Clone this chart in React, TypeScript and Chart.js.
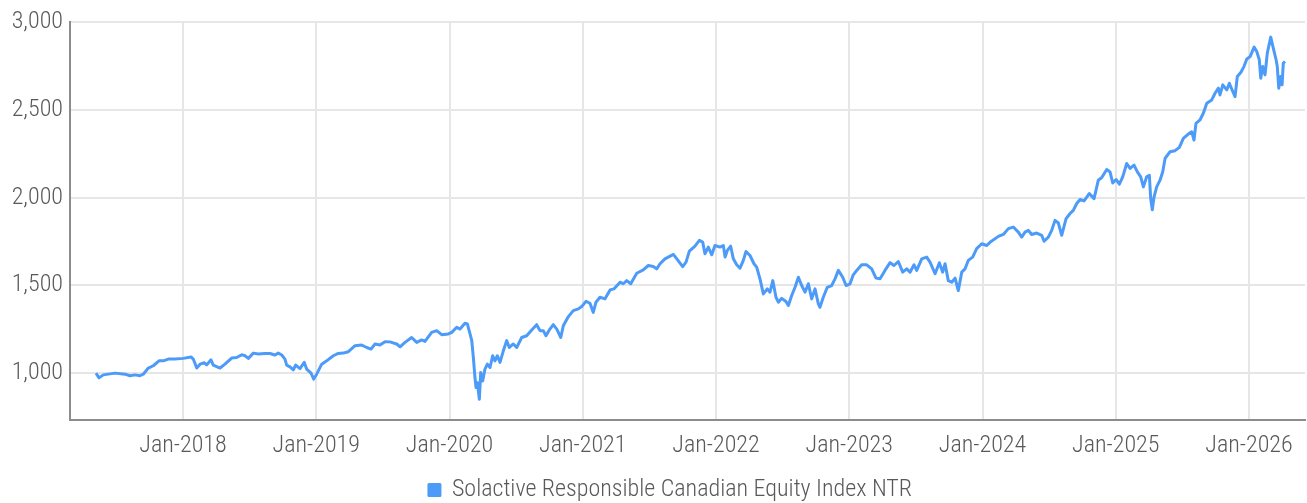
import React, { useEffect, useRef } from "react";
import { Chart, registerables } from "chart.js";

Chart.register(...registerables);

const seriesLabel = "Solactive Responsible Canadian Equity Index NTR";

// Time as decimal years
const dates = [
  2017.347, 2017.370, 2017.402, 2017.490, 2017.565, 2017.602, 2017.640, 2017.677, 2017.702, 2017.740,
  2017.777, 2017.820, 2017.852, 2017.890, 2017.940, 2018.002, 2018.060, 2018.077, 2018.103, 2018.128,
  2018.160, 2018.178, 2018.210, 2018.227, 2018.278, 2018.315, 2018.365, 2018.403, 2018.441, 2018.465,
  2018.490, 2018.528, 2018.565, 2018.615, 2018.653, 2018.690, 2018.715, 2018.741, 2018.765, 2018.778,
  2018.803, 2018.828, 2018.846, 2018.878, 2018.910, 2018.928, 2018.961, 2018.981, 2019.003, 2019.041,
  2019.078, 2019.128, 2019.165, 2019.203, 2019.241, 2019.291, 2019.341, 2019.379, 2019.411, 2019.441,
  2019.478, 2019.516, 2019.553, 2019.604, 2019.629, 2019.666, 2019.716, 2019.754, 2019.791, 2019.816,
  2019.866, 2019.904, 2019.941, 2019.991, 2020.017, 2020.054, 2020.079, 2020.116, 2020.134, 2020.154,
  2020.167, 2020.179, 2020.191, 2020.199, 2020.209, 2020.224, 2020.234, 2020.249, 2020.266, 2020.284,
  2020.304, 2020.324, 2020.341, 2020.359, 2020.379, 2020.404, 2020.429, 2020.449, 2020.479, 2020.504,
  2020.542, 2020.579, 2020.617, 2020.654, 2020.679, 2020.704, 2020.724, 2020.749, 2020.779, 2020.805,
  2020.835, 2020.854, 2020.892, 2020.929, 2020.967, 2020.992, 2021.024, 2021.054, 2021.079, 2021.099,
  2021.129, 2021.167, 2021.205, 2021.235, 2021.280, 2021.304, 2021.330, 2021.360, 2021.405, 2021.454,
  2021.492, 2021.529, 2021.555, 2021.580, 2021.617, 2021.680, 2021.710, 2021.750, 2021.775, 2021.800,
  2021.842, 2021.875, 2021.900, 2021.917, 2021.942, 2021.968, 2021.992, 2022.030, 2022.055, 2022.068,
  2022.085, 2022.110, 2022.130, 2022.155, 2022.180, 2022.205, 2022.225, 2022.255, 2022.285, 2022.305,
  2022.330, 2022.355, 2022.385, 2022.405, 2022.426, 2022.450, 2022.468, 2022.493, 2022.525, 2022.543,
  2022.568, 2022.593, 2022.618, 2022.643, 2022.668, 2022.693, 2022.718, 2022.743, 2022.768, 2022.780,
  2022.805, 2022.835, 2022.868, 2022.893, 2022.918, 2022.951, 2022.976, 2023.006, 2023.030, 2023.056,
  2023.093, 2023.131, 2023.168, 2023.201, 2023.231, 2023.268, 2023.306, 2023.336, 2023.368, 2023.401,
  2023.431, 2023.456, 2023.486, 2023.506, 2023.544, 2023.581, 2023.606, 2023.644, 2023.676, 2023.701,
  2023.719, 2023.743, 2023.769, 2023.794, 2023.818, 2023.844, 2023.869, 2023.893, 2023.926, 2023.956,
  2023.994, 2024.032, 2024.056, 2024.119, 2024.156, 2024.194, 2024.231, 2024.269, 2024.294, 2024.319,
  2024.344, 2024.369, 2024.407, 2024.444, 2024.462, 2024.494, 2024.519, 2024.544, 2024.569, 2024.594,
  2024.627, 2024.657, 2024.681, 2024.707, 2024.732, 2024.762, 2024.801, 2024.837, 2024.869, 2024.895,
  2024.932, 2024.957, 2024.977, 2025.002, 2025.027, 2025.052, 2025.082, 2025.107, 2025.137, 2025.162,
  2025.187, 2025.207, 2025.232, 2025.252, 2025.262, 2025.274, 2025.287, 2025.307, 2025.332, 2025.352,
  2025.370, 2025.407, 2025.445, 2025.477, 2025.507, 2025.544, 2025.570, 2025.587, 2025.602, 2025.632,
  2025.657, 2025.683, 2025.720, 2025.745, 2025.770, 2025.782, 2025.803, 2025.833, 2025.852, 2025.878,
  2025.895, 2025.912, 2025.938, 2025.962, 2025.983, 2026.008, 2026.038, 2026.058, 2026.077, 2026.088,
  2026.103, 2026.120, 2026.137, 2026.163, 2026.182, 2026.203, 2026.212, 2026.223, 2026.238, 2026.248,
  2026.257, 2026.270,
];

const values = [
  1000, 973, 990, 1000, 994, 985, 990, 985, 994, 1029,
  1042, 1070, 1070, 1080, 1080, 1084, 1092, 1080, 1029, 1051,
  1059, 1047, 1076, 1046, 1029, 1051, 1086, 1089, 1105, 1099,
  1084, 1114, 1109, 1112, 1112, 1103, 1114, 1103, 1080, 1046,
  1036, 1019, 1046, 1026, 1061, 1023, 1000, 966, 994, 1051,
  1070, 1099, 1112, 1114, 1122, 1156, 1160, 1146, 1137, 1166,
  1160, 1179, 1178, 1166, 1150, 1175, 1203, 1175, 1189, 1181,
  1232, 1242, 1219, 1223, 1232, 1261, 1251, 1284, 1280, 1223,
  1185, 1089, 975, 918, 946, 851, 1003, 956, 1023, 1051,
  1032, 1099, 1070, 1099, 1061, 1127, 1185, 1146, 1166, 1146,
  1203, 1213, 1246, 1276, 1242, 1242, 1213, 1246, 1276, 1251,
  1203, 1270, 1322, 1356, 1366, 1379, 1409, 1398, 1346, 1404,
  1432, 1423, 1474, 1480, 1518, 1509, 1527, 1509, 1569, 1588,
  1613, 1607, 1594, 1623, 1651, 1676, 1646, 1607, 1632, 1695,
  1723, 1756, 1746, 1680, 1718, 1674, 1727, 1718, 1727, 1661,
  1699, 1723, 1651, 1617, 1598, 1642, 1693, 1670, 1623, 1604,
  1537, 1451, 1480, 1461, 1527, 1432, 1404, 1426, 1408, 1385,
  1442, 1489, 1546, 1499, 1461, 1509, 1423, 1480, 1394, 1375,
  1432, 1489, 1499, 1537, 1585, 1546, 1499, 1509, 1560, 1585,
  1617, 1617, 1594, 1541, 1537, 1585, 1629, 1613, 1636, 1575,
  1594, 1575, 1617, 1585, 1651, 1661, 1632, 1566, 1629, 1575,
  1623, 1527, 1518, 1541, 1470, 1575, 1594, 1642, 1661, 1709,
  1737, 1727, 1745, 1779, 1790, 1823, 1832, 1803, 1775, 1803,
  1813, 1790, 1798, 1785, 1751, 1775, 1813, 1870, 1855, 1785,
  1880, 1909, 1927, 1966, 1989, 1981, 2023, 1994, 2099, 2114,
  2160, 2146, 2083, 2103, 2076, 2118, 2194, 2166, 2185, 2146,
  2118, 2061, 2118, 2127, 1994, 1931, 2003, 2061, 2099, 2146,
  2223, 2261, 2267, 2286, 2337, 2362, 2375, 2327, 2423, 2442,
  2480, 2537, 2556, 2594, 2623, 2585, 2642, 2613, 2651, 2604,
  2575, 2689, 2712, 2746, 2789, 2803, 2857, 2832, 2785, 2680,
  2746, 2699, 2823, 2914, 2851, 2785, 2746, 2623, 2689, 2642,
  2766, 2775,
];

const xTickYears = [2018, 2019, 2020, 2021, 2022, 2023, 2024, 2025, 2026];
const yTickValues = [1000, 1500, 2000, 2500, 3000];

const FONT_FAMILY = "Roboto, 'DejaVu Sans Condensed', sans-serif";
const FONT_WEIGHT: any = "300 condensed";
const TEXT_COLOR = "#595959";
const GRID_COLOR = "#e6e6e6";
const AXIS_COLOR = "#8c8c8c";
const LINE_COLOR = "#4d9bf8";

// shifts the legend block horizontally so it sits where the original does
const legendShiftPlugin = {
  id: "legendShift",
  afterLayout(chart: any) {
    const lg = chart.legend;
    if (lg) {
      lg.left += 18;
      lg.right += 18;
    }
  },
};

export default function App() {
  const canvasRef = useRef<HTMLCanvasElement | null>(null);

  useEffect(() => {
    const canvas = canvasRef.current;
    if (!canvas) return;
    const font = { family: FONT_FAMILY, size: 24, weight: FONT_WEIGHT };
    const chart = new Chart(canvas, {
      type: "line",
      data: {
        datasets: [
          {
            label: seriesLabel,
            data: dates.map((d, i) => ({ x: d, y: values[i] })),
            borderColor: LINE_COLOR,
            backgroundColor: LINE_COLOR,
            borderWidth: 3,
            pointRadius: 0,
            tension: 0,
            borderJoinStyle: "round",
            fill: false,
          },
        ],
      },
      plugins: [legendShiftPlugin],
      options: {
        animation: false,
        responsive: false,
        devicePixelRatio: 1,
        layout: { padding: { top: 22, right: 2, left: 0, bottom: -9 } },
        plugins: {
          legend: {
            position: "bottom",
            labels: {
              boxWidth: 11,
              boxHeight: 11,
              color: TEXT_COLOR,
              padding: 10,
              font,
            },
          },
          tooltip: { enabled: false },
        },
        scales: {
          x: {
            type: "linear",
            min: 2017.152,
            max: 2026.42,
            afterBuildTicks: (scale: any) => {
              scale.ticks = xTickYears.map((v) => ({ value: v }));
            },
            afterFit: (scale: any) => {
              scale.height = 48;
            },
            ticks: {
              autoSkip: false,
              maxRotation: 0,
              padding: 12,
              color: TEXT_COLOR,
              font,
              callback: (v: any) => "Jan-" + Math.round(Number(v)),
            },
            grid: { color: GRID_COLOR, lineWidth: 2, drawTicks: false },
            border: { color: AXIS_COLOR, width: 2 },
          },
          y: {
            type: "linear",
            min: 733,
            max: 3000,
            afterBuildTicks: (scale: any) => {
              scale.ticks = yTickValues.map((v) => ({ value: v }));
            },
            afterFit: (scale: any) => {
              scale.width = 70;
            },
            ticks: {
              padding: 7,
              color: TEXT_COLOR,
              font,
              callback: (v: any) => Number(v).toLocaleString("en-US"),
            },
            grid: { color: GRID_COLOR, lineWidth: 2, drawTicks: false },
            border: { color: AXIS_COLOR, width: 2 },
          },
        },
      },
    });
    return () => chart.destroy();
  }, []);

  return (
    <div style={{ position: "fixed", left: 0, top: 0, width: 1307, height: 503, background: "#fff" }}>
      <canvas ref={canvasRef} width={1307} height={503} style={{ width: 1307, height: 503 }} />
    </div>
  );
}
